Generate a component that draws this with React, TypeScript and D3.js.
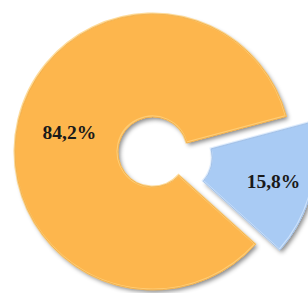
import React, { useRef, useEffect } from "react";
import * as d3 from "d3";

const labels = ["84,2%", "15,8%"];
const values = [84.2, 15.8];
const colors = ["#FDB64E", "#A9CBF4"];
const darkColors = ["#E89A2C", "#7FA6D6"];
const lightColors = ["#FFD27E", "#D3E6FD"];

function App() {
  const ref = useRef<SVGSVGElement | null>(null);

  const width = 308,
    height = 293;
  const cx = 153,
    cy = 152;
  const outerR = 138,
    innerR = 35;

  useEffect(() => {
    const svg = d3.select(ref.current);
    svg.selectAll("*").remove();

    const defs = svg.append("defs");
    const f = defs
      .append("filter")
      .attr("id", "shadow")
      .attr("x", "-20%")
      .attr("y", "-20%")
      .attr("width", "150%")
      .attr("height", "150%");
    f.append("feDropShadow")
      .attr("dx", 2)
      .attr("dy", 2.5)
      .attr("stdDeviation", 2.2)
      .attr("flood-color", "#000")
      .attr("flood-opacity", 0.45);

    const pie = d3
      .pie<number>()
      .sort(null)
      .value((d) => d)
      .startAngle((132 * Math.PI) / 180)
      .endAngle((132 * Math.PI) / 180 + 2 * Math.PI);

    const arc = d3.arc<d3.PieArcDatum<number>>().innerRadius(innerR).outerRadius(outerR);

    const explode = [0, 25];
    const labelR = [86, 99];

    const slices = svg
      .append("g")
      .selectAll("g")
      .data(pie(values))
      .enter()
      .append("g")
      .attr("transform", (d, i) => {
        const mid = (d.startAngle + d.endAngle) / 2;
        const dx = Math.sin(mid) * explode[i];
        const dy = -Math.cos(mid) * explode[i];
        return "translate(" + (cx + dx) + "," + (cy + dy) + ")";
      });

    slices
      .append("path")
      .attr("d", arc)
      .attr("fill", (d, i) => colors[i])
      .attr("filter", "url(#shadow)");

    // soft bevel highlight
    slices
      .append("path")
      .attr("d", arc)
      .attr("fill", "none")
      .attr("stroke", (d, i) => lightColors[i])
      .attr("stroke-width", 2)
      .attr("stroke-opacity", 0.8)
      .attr("transform", "translate(-0.5,-0.5)");

    slices
      .append("path")
      .attr("d", arc)
      .attr("fill", "none")
      .attr("stroke", (d, i) => darkColors[i])
      .attr("stroke-width", 0.8)
      .attr("stroke-opacity", 0.7);

    slices
      .append("text")
      .attr("x", (d, i) => Math.sin((d.startAngle + d.endAngle) / 2) * labelR[i])
      .attr("y", (d, i) => -Math.cos((d.startAngle + d.endAngle) / 2) * labelR[i])
      .attr("text-anchor", "middle")
      .attr("dy", "0.35em")
      .style("font-family", "Liberation Serif, Times New Roman, serif")
      .style("font-weight", "bold")
      .style("font-size", "19.5px")
      .attr("fill", "#1a1a1a")
      .text((d, i) => labels[i]);
  }, []);

  return (
    <svg
      ref={ref}
      width={width}
      height={height}
      style={{ position: "absolute", left: 0, top: 0, background: "#fff" }}
    />
  );
}

export default App;
